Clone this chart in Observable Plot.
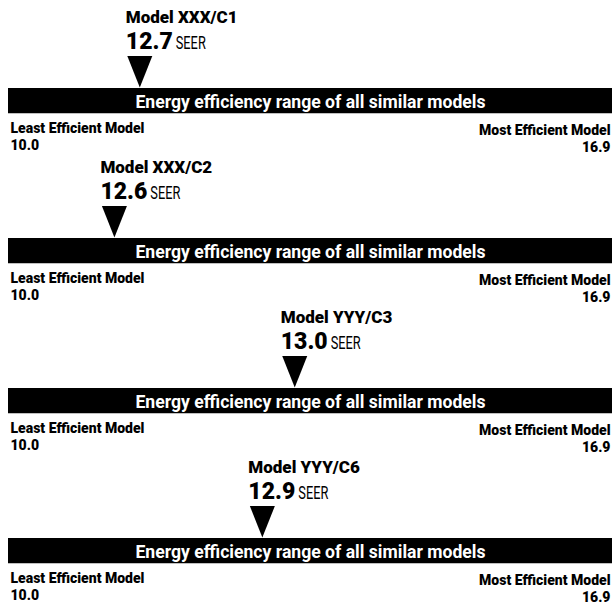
<!DOCTYPE html>
<html>
<head>
<meta charset="utf-8">
<script src="https://cdn.jsdelivr.net/npm/d3@7"></script>
<script src="https://cdn.jsdelivr.net/npm/@observablehq/plot@0.6"></script>
<style>
  html, body { margin: 0; padding: 0; background: #fff; }
  #chart svg { display: block; }
</style>
</head>
<body>
<div id="chart"></div>
<script>
// ---- data ----
const models = ["Model XXX/C1", "Model XXX/C2", "Model YYY/C3", "Model YYY/C6"];
const seerValues = [12.7, 12.6, 13.0, 12.9];
// where each pointer sits along the range bar (in SEER units, as drawn)
const pointerAt = [11.5, 11.21, 13.27, 12.9];
const leastValues = [10.0, 10.0, 10.0, 10.0];
const mostValues = [16.9, 16.9, 16.9, 16.9];
const unitLabel = "SEER";
const barLabel = "Energy efficiency range of all similar models";
const leastLabel = "Least Efficient Model";
const mostLabel = "Most Efficient Model";

const rows = models.map((m, i) => ({
  panel: i, model: m, seer: seerValues[i], at: pointerAt[i],
  min: leastValues[i], max: mostValues[i]
}));

const FONT = "Roboto, 'Liberation Sans', sans-serif";
const HEAVY = 900;
const ctx = document.createElement("canvas").getContext("2d");
function textWidth(str, size, weight) {
  ctx.font = `${weight} ${size}px ${FONT}`;
  return ctx.measureText(str).width;
}

const W = 614, H = 608, MB = 5;
const labelDx = -14;
const UNIT_SIZE = 18, UNIT_W = 30;   // condensed look of the unit label
const END_SIZE = 14;
const END_GAP = 16.5;

// down-pointing pointer triangle
const pointer = {
  draw(context) {
    context.moveTo(-12.5, -16);
    context.lineTo(12.5, -16);
    context.lineTo(0, 15.5);
    context.closePath();
  }
};

const fmt = d3.format(".1f");
const common = { fy: "panel", frameAnchor: "top", lineAnchor: "middle", fill: "#000" };

const chart = Plot.plot({
  width: W,
  height: H,
  marginLeft: 8,
  marginRight: 2,
  marginTop: 0,
  marginBottom: MB,
  style: { fontFamily: FONT, background: "#fff" },
  x: { domain: [d3.min(leastValues), d3.max(mostValues)], axis: null },
  fy: { domain: rows.map(d => d.panel), axis: null, padding: 0 },
  marks: [
    // range bar
    Plot.barX(rows, {
      x1: "min", x2: "max", fy: "panel", fill: "#000",
      insetTop: 86, insetBottom: (H - MB) / 4 - 112
    }),
    Plot.text(rows, {
      ...common,
      x: d => (d.min + d.max) / 2, text: () => barLabel,
      dy: 105 - 0.32 * 17.6, fill: "#fff", fontSize: 17.6, fontWeight: 700
    }),
    // pointer
    Plot.dot(rows, {
      x: "at", fy: "panel", frameAnchor: "top", dy: 69.5,
      symbol: pointer, r: 10, fill: "#000", stroke: null
    }),
    // model name
    Plot.text(rows, {
      ...common,
      x: "at", text: "model",
      dy: 20 - 0.32 * 17, dx: labelDx, textAnchor: "start",
      fontSize: 17, fontWeight: HEAVY
    }),
    // value
    Plot.text(rows, {
      ...common,
      x: "at", text: d => fmt(d.seer),
      dy: 46 - 0.32 * 23, dx: labelDx, textAnchor: "start",
      fontSize: 23, fontWeight: HEAVY
    }),
    // unit
    ...rows.map(r => Plot.text([r], {
      ...common,
      x: "at", text: () => unitLabel,
      dy: 46 - 0.32 * UNIT_SIZE, dx: labelDx + textWidth(fmt(r.seer), 23, HEAVY) + 3,
      textAnchor: "start", fontSize: UNIT_SIZE, fontWeight: 400
    })),
    // ends (two-line labels)
    Plot.text(rows, {
      ...common, lineAnchor: "top",
      x: "min", text: d => `${leastLabel}\n${fmt(d.min)}`,
      dy: 129 - 0.71 * END_SIZE, dx: 2, textAnchor: "start",
      lineHeight: END_GAP / END_SIZE,
      fontSize: END_SIZE, fontWeight: HEAVY
    }),
    Plot.text(rows, {
      ...common, lineAnchor: "top",
      x: "max", text: d => `${mostLabel}\n${fmt(d.max)}`,
      dy: 131 - 0.71 * END_SIZE, dx: -2, textAnchor: "end",
      lineHeight: END_GAP / END_SIZE,
      fontSize: END_SIZE, fontWeight: HEAVY
    })
  ]
});
// give the unit label its condensed width
d3.select(chart).selectAll("text")
  .filter(function () { return this.textContent === unitLabel; })
  .attr("textLength", UNIT_W)
  .attr("lengthAdjust", "spacingAndGlyphs");
document.getElementById("chart").appendChild(chart);
</script>
</body>
</html>
